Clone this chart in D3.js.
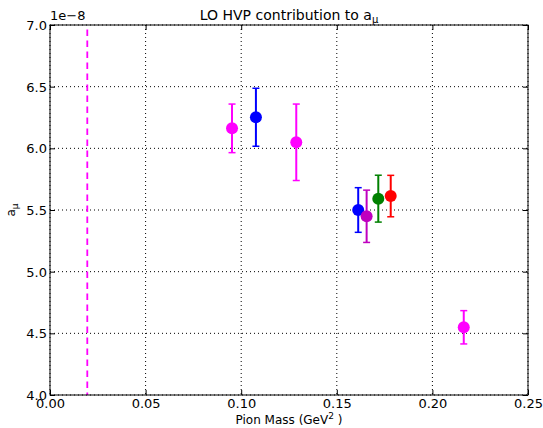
<!DOCTYPE html>
<html>
<head>
<meta charset="utf-8">
<script src="https://cdn.jsdelivr.net/npm/d3@7"></script>
<style>
  body { margin: 0; background: #fff; }
  svg { font-family: 'DejaVu Sans', sans-serif; }
</style>
</head>
<body>
<svg id="chart"></svg>
<script>
// values of a_mu are in units of 1e-8
const pionMass = [0.0952, 0.1077, 0.1288, 0.1612, 0.1656, 0.1717, 0.1782, 0.2164]
const amu = [6.162, 6.252, 6.049, 5.50, 5.449, 5.592, 5.613, 4.549]
const amuErr = [0.197, 0.235, 0.31, 0.181, 0.212, 0.19, 0.168, 0.135]
const pointColors = ['#ff00ff', '#0000ff', '#ff00ff', '#0000ff', '#bf00bf', '#008000', '#ff0000', '#ff00ff']
const physicalMass = 0.0195
const xTicks = [0.00, 0.05, 0.10, 0.15, 0.20, 0.25]
const yTicks = [4.0, 4.5, 5.0, 5.5, 6.0, 6.5, 7.0]

const width = 543
const height = 428
const margin = { top: 25, right: 15, bottom: 33, left: 50 }
const innerW = width - margin.left - margin.right
const innerH = height - margin.top - margin.bottom

const svg = d3.select('#chart')
    .attr('width', width)
    .attr('height', height)

const g = svg.append('g')
    .attr('transform', `translate(${margin.left},${margin.top})`)

const x = d3.scaleLinear().domain([0, 0.25]).range([0, innerW])
const y = d3.scaleLinear().domain([4.0, 7.0]).range([innerH, 0])

// grid
g.selectAll('.vgrid')
    .data(xTicks)
    .enter().append('line')
    .attr('x1', d => x(d)).attr('x2', d => x(d))
    .attr('y1', 0).attr('y2', innerH)
    .attr('stroke', '#000')
    .attr('stroke-width', 1)
    .attr('stroke-dasharray', '1,3')

g.selectAll('.hgrid')
    .data(yTicks)
    .enter().append('line')
    .attr('y1', d => y(d)).attr('y2', d => y(d))
    .attr('x1', 0).attr('x2', innerW)
    .attr('stroke', '#000')
    .attr('stroke-width', 1)
    .attr('stroke-dasharray', '1,3')

// physical point
g.append('line')
    .attr('x1', x(physicalMass)).attr('x2', x(physicalMass))
    .attr('y1', 0).attr('y2', innerH)
    .attr('stroke', '#ff00ff')
    .attr('stroke-width', 1.8)
    .attr('stroke-dasharray', '6.5,4.5')
    .attr('stroke-dashoffset', -4.5)

// axes with inward ticks
const fmtX = d3.format('.2f')
const fmtY = d3.format('.1f')

const bottomAxis = g.append('g')
    .attr('transform', `translate(0,${innerH})`)
    .call(d3.axisBottom(x).tickValues(xTicks).tickFormat(fmtX).tickSizeInner(-5).tickSizeOuter(0).tickPadding(8))
const topAxis = g.append('g')
    .call(d3.axisTop(x).tickValues(xTicks).tickFormat('').tickSizeInner(-5).tickSizeOuter(0))
const leftAxis = g.append('g')
    .call(d3.axisLeft(y).tickValues(yTicks).tickFormat(fmtY).tickSizeInner(-5).tickSizeOuter(0).tickPadding(6))
const rightAxis = g.append('g')
    .attr('transform', `translate(${innerW},0)`)
    .call(d3.axisRight(y).tickValues(yTicks).tickFormat('').tickSizeInner(-5).tickSizeOuter(0))

for (const ax of [bottomAxis, topAxis, leftAxis, rightAxis]) {
    ax.select('.domain').remove()
    ax.selectAll('text')
        .attr('fill', '#000')
        .style('font-family', "'DejaVu Sans', sans-serif")
        .style('font-size', '13px')
}
leftAxis.selectAll('text').attr('dy', '0.35em').attr('x', -3)
bottomAxis.selectAll('text').attr('dy', '0.71em').attr('y', 4)

// frame
g.append('rect')
    .attr('width', innerW)
    .attr('height', innerH)
    .attr('fill', 'none')
    .attr('stroke', '#000')
    .attr('stroke-width', 1)

// error bars
const points = pionMass.map((m, i) => ({ m, a: amu[i], e: amuErr[i], c: pointColors[i] }))

const bars = g.selectAll('.errbar')
    .data(points)
    .enter().append('g')
    .attr('class', 'errbar')

bars.append('line')
    .attr('x1', d => x(d.m)).attr('x2', d => x(d.m))
    .attr('y1', d => y(d.a - d.e)).attr('y2', d => y(d.a + d.e))
    .attr('stroke', d => d.c)
    .attr('stroke-width', 2)

bars.selectAll('.cap')
    .data(d => [{ d, v: d.a - d.e }, { d, v: d.a + d.e }])
    .enter().append('line')
    .attr('x1', p => x(p.d.m) - 3.5).attr('x2', p => x(p.d.m) + 3.5)
    .attr('y1', p => y(p.v)).attr('y2', p => y(p.v))
    .attr('stroke', p => p.d.c)
    .attr('stroke-width', 1.5)

g.selectAll('.dot')
    .data(points)
    .enter().append('circle')
    .attr('cx', d => x(d.m))
    .attr('cy', d => y(d.a))
    .attr('r', 6)
    .attr('fill', d => d.c)

// offset text
svg.append('text')
    .attr('x', margin.left)
    .attr('y', 20)
    .style('font-size', '13px')
    .text('1e\u22128')

// title
const title = svg.append('text')
    .attr('x', margin.left + innerW / 2)
    .attr('y', 20)
    .attr('text-anchor', 'middle')
    .style('font-size', '14px')
title.append('tspan').text('LO HVP contribution to a')
title.append('tspan').attr('dy', 3).style('font-size', '10px').text('\u03bc')

// x label
const xl = svg.append('text')
    .attr('x', margin.left + innerW / 2)
    .attr('y', 424)
    .attr('text-anchor', 'middle')
    .style('font-size', '12px')
xl.append('tspan').text('Pion Mass (GeV')
xl.append('tspan').attr('dy', -5).style('font-size', '9px').text('2')
xl.append('tspan').attr('dy', 5).text(' )')

// y label
const yl = svg.append('text')
    .attr('transform', `translate(15,${margin.top + innerH / 2}) rotate(-90)`)
    .attr('text-anchor', 'middle')
    .style('font-size', '12px')
yl.append('tspan').text('a')
yl.append('tspan').attr('dy', 3).style('font-size', '9px').text('\u03bc')
</script>
</body>
</html>
